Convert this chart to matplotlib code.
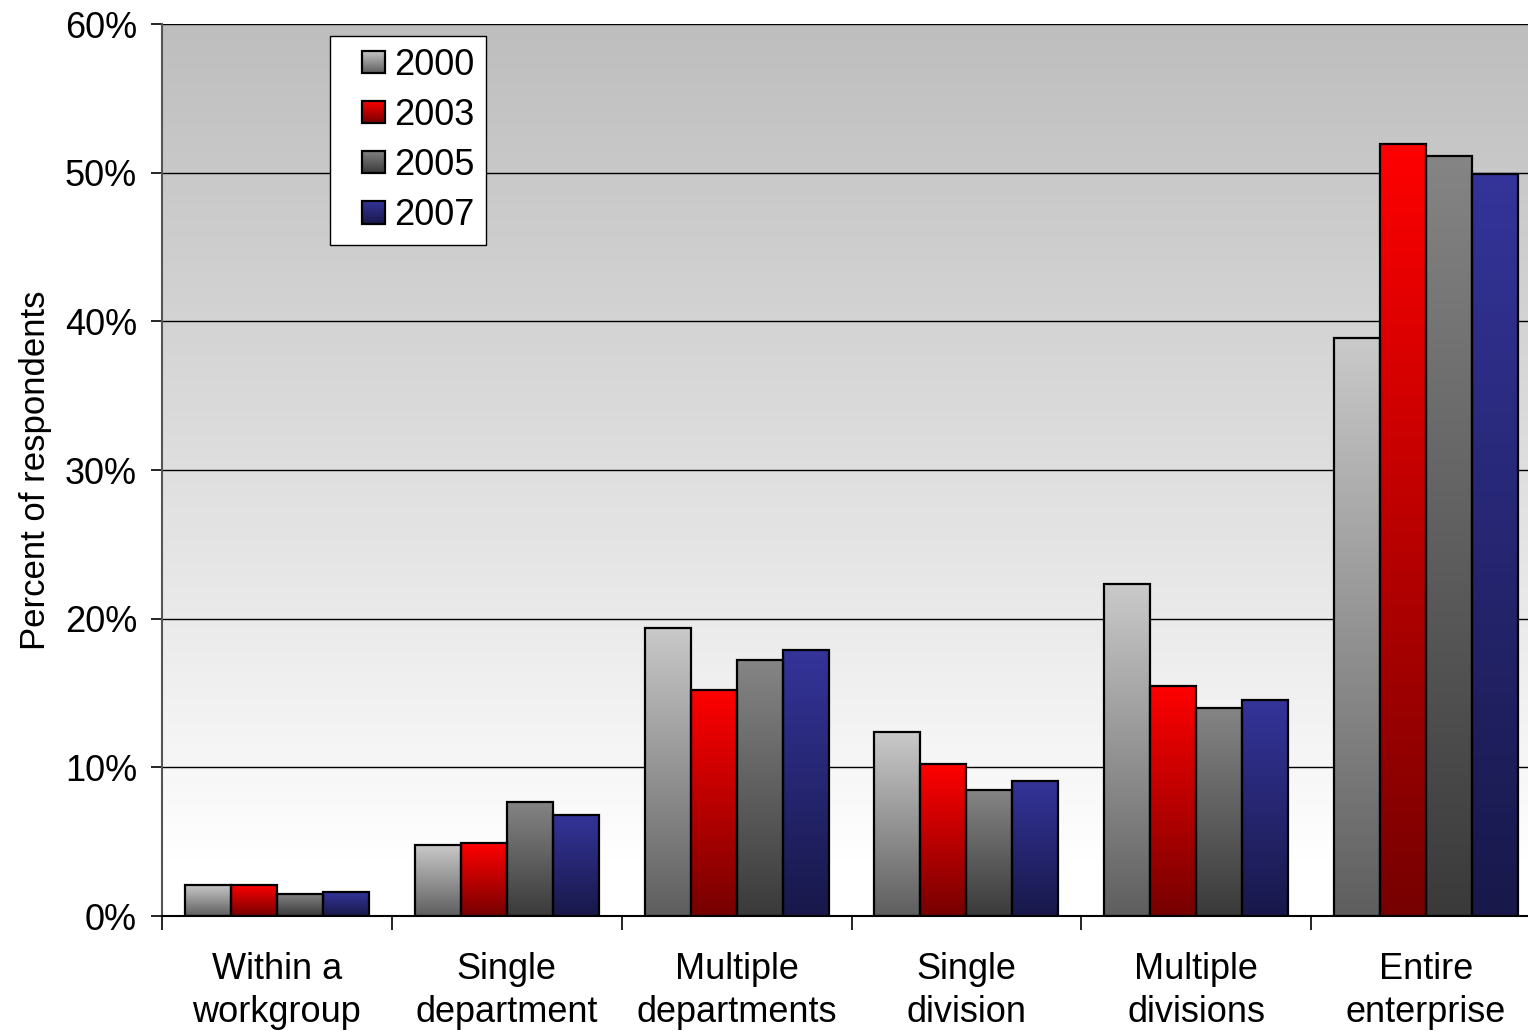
import numpy as np
import matplotlib.pyplot as plt
from matplotlib.colors import LinearSegmentedColormap
from matplotlib.image import BboxImage
from matplotlib.transforms import Bbox, TransformedBbox
from matplotlib.legend_handler import HandlerBase
from matplotlib.patches import Rectangle, Patch

plt.rcParams['font.family'] = ['Liberation Sans', 'DejaVu Sans']

categories = ['Within a\nworkgroup', 'Single\ndepartment', 'Multiple\ndepartments',
              'Single\ndivision', 'Multiple\ndivisions', 'Entire\nenterprise']
years = ['2000', '2003', '2005', '2007']
v2000 = [2.1, 4.8, 19.4, 12.4, 22.3, 38.9]
v2003 = [2.1, 4.9, 15.2, 10.2, 15.5, 51.9]
v2005 = [1.5, 7.7, 17.2, 8.5, 14.0, 51.1]
v2007 = [1.6, 6.8, 17.9, 9.1, 14.5, 49.9]
series = [v2000, v2003, v2005, v2007]

# top / bottom colour of each bar's vertical gradient
grads = [('#cacaca', '#5e5e5e'), ('#ff0000', '#760000'),
         ('#858585', '#3a3a3a'), ('#34349a', '#18184a')]
cmaps = [LinearSegmentedColormap.from_list('g%d' % i, [b, t]) for i, (t, b) in enumerate(grads)]
ramp = np.linspace(0, 1, 256).reshape(-1, 1)

fig = plt.figure(figsize=(15.28, 10.31), dpi=100)
ax = fig.add_axes([162/1528, 1-916/1031, 1379/1528, 892/1031])
ax.set_xlim(0, 6)
ax.set_ylim(0, 60)

# plot area background: gray at the top fading to white
bg = LinearSegmentedColormap.from_list('bg', [(0, '#ffffff'), (0.08, '#ffffff'), (1, '#bebebe')])
ax.imshow(ramp ** 0.9, cmap=bg, extent=(0, 6, 0, 60), origin='lower', aspect='auto', zorder=0)

for y in range(10, 61, 10):
    ax.axhline(y, color='black', lw=1.0, zorder=1)

bw = 0.2
x = np.arange(len(categories))
for k, vals in enumerate(series):
    for i, v in enumerate(vals):
        x0 = i + 0.1 + k * bw
        ax.imshow(ramp, cmap=cmaps[k], extent=(x0, x0 + bw, 0, v), origin='lower',
                  aspect='auto', zorder=2)
        ax.add_patch(Rectangle((x0, 0), bw, v, fill=False, edgecolor='black', lw=1.6, zorder=3))

ax.set_xlim(0, 6)
ax.set_ylim(0, 60)

ax.set_yticks(range(0, 61, 10))
ax.set_yticklabels(['%d%%' % t for t in range(0, 61, 10)], fontsize=26)
ax.set_xticks(range(0, 7))
ax.set_xticklabels([])
ax.set_xticks(x + 0.5, minor=True)
ax.set_xticklabels(categories, minor=True, fontsize=26, linespacing=1.3)
ax.tick_params(axis='x', which='minor', length=0, pad=26)
ax.tick_params(axis='x', which='major', length=10, width=1.2, direction='out')
ax.tick_params(axis='y', length=8, width=1.2, pad=10)
ax.set_ylabel('Percent of respondents', fontsize=25, labelpad=9)

for s in ['top', 'right']:
    ax.spines[s].set_visible(False)
ax.spines['left'].set_color('#555555')
ax.spines['left'].set_linewidth(1.5)
ax.spines['bottom'].set_linewidth(1.5)
ax.spines['left'].set_zorder(4)
ax.spines['bottom'].set_zorder(4)


class GradientHandler(HandlerBase):
    def __init__(self, cmap):
        super().__init__()
        self.cmap = cmap

    def create_artists(self, legend, orig_handle, xdescent, ydescent, width, height,
                       fontsize, trans):
        s = fontsize * 0.62
        x0 = -xdescent + width - s
        y0 = -ydescent + (height - s) / 2
        bb = TransformedBbox(Bbox.from_bounds(x0, y0, s, s), trans)
        img = BboxImage(bb, cmap=self.cmap, origin='lower')
        img.set_data(ramp)
        rect = Rectangle((x0, y0), s, s, fill=False, edgecolor='black', lw=1.6, transform=trans)
        return [img, rect]


handles = [Patch(label=y) for y in years]
leg = ax.legend(handles, years, loc='upper left', bbox_to_anchor=(0.1218, 0.9865),
                borderaxespad=0, fontsize=26, frameon=True, fancybox=False,
                edgecolor='black', framealpha=1, labelspacing=0.42,
                handlelength=1.2, handletextpad=0.25, borderpad=0.32,
                handler_map={h: GradientHandler(cmaps[i]) for i, h in enumerate(handles)})
leg.get_frame().set_linewidth(1.0)
leg.set_zorder(5)

fig.savefig('out.png', dpi=100)
